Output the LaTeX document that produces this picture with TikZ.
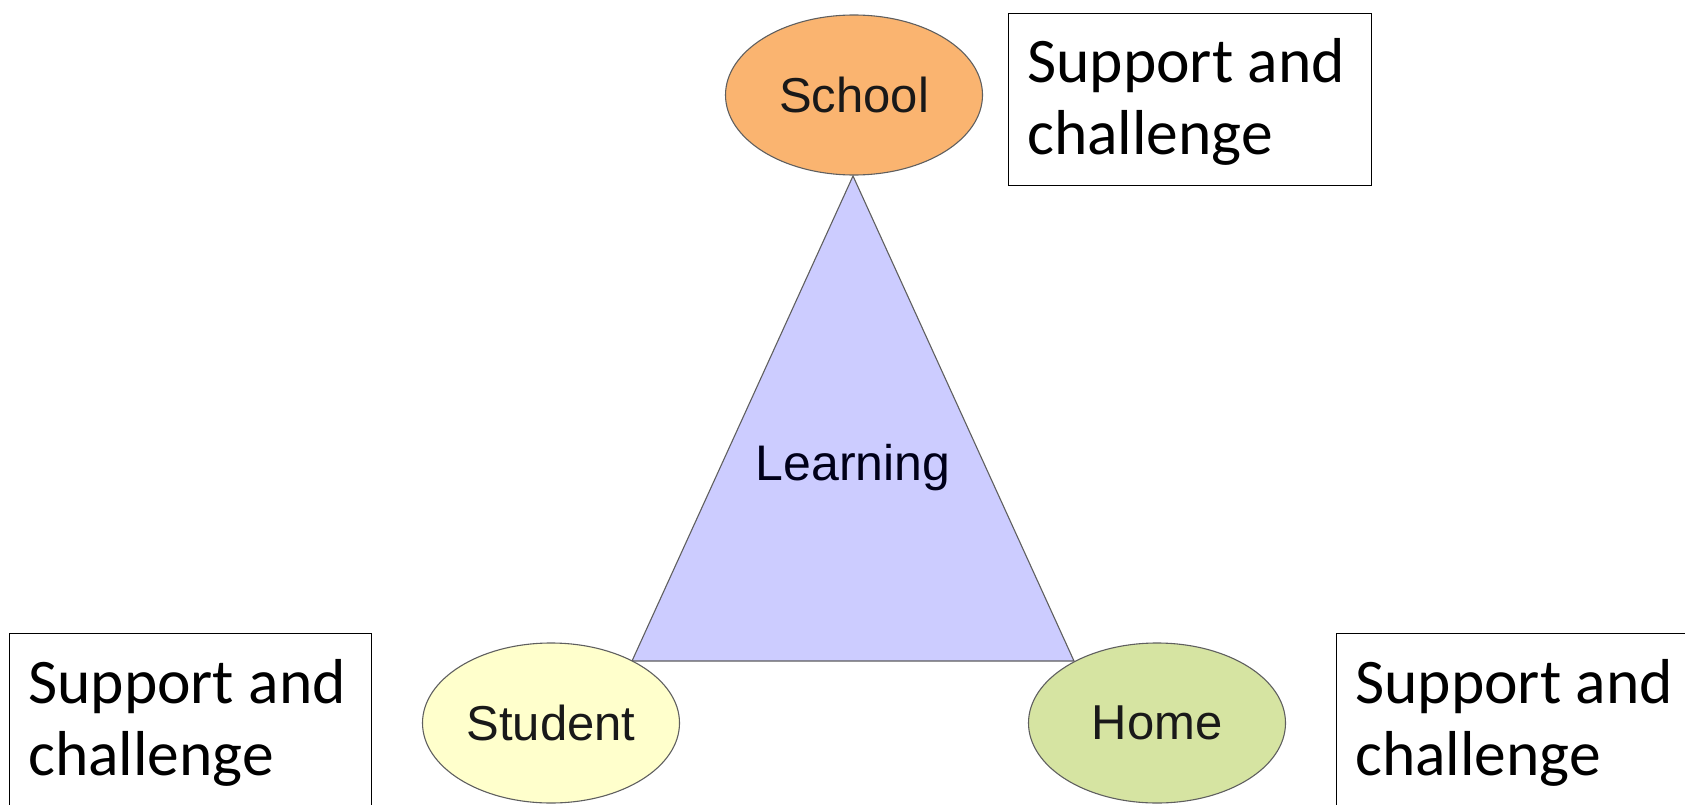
\documentclass[tikz,border=0pt]{standalone}
\usepackage{fontspec}
\setmainfont{Liberation Sans}
\newfontfamily\boxfont{Carlito}
\usetikzlibrary{shapes.geometric}
\definecolor{schoolfill}{RGB}{250,180,112}
\definecolor{studentfill}{RGB}{255,255,204}
\definecolor{homefill}{RGB}{214,228,162}
\definecolor{trifill}{RGB}{204,204,255}
\definecolor{edgegray}{RGB}{95,95,95}
\tikzset{
  oval/.style={ellipse, draw=edgegray, line width=1.1pt, minimum width=257pt, minimum height=160pt, inner sep=0pt, font=\fontsize{49}{55}\selectfont, text=black!90},
  framebox/.style={rectangle, draw=black, line width=1.4pt, anchor=north west, inner sep=0pt},
  boxtext/.style={anchor=base west, inner sep=0pt, font=\boxfont\fontsize{63.5}{72}\selectfont},
}
\begin{document}
\begin{tikzpicture}[x=1pt,y=-1pt]
\useasboundingbox (0,0) rectangle (1685,805);
% triangle
\coordinate (apex) at (853,176);
\coordinate (bl) at (632,661);
\coordinate (br) at (1074,661);
\draw[fill=trifill, draw=edgegray, line width=1.1pt, line join=miter] (apex) -- (bl) -- (br) -- cycle;
\node[font=\fontsize{50}{56}\selectfont, text=black!90!blue] (learning) at (853,468) {Learning};
% ellipses
\node[oval, fill=schoolfill] (school) at (854,95) {School};
\node[oval, fill=studentfill] (student) at (551,723) {Student};
\node[oval, fill=homefill] (home) at (1157,723) {Home};
% boxes
\node[framebox, minimum width=363pt, minimum height=172pt] (boxT) at (1008,13) {};
\node[boxtext] (tT1) at (1027,83) {Support and};
\node[boxtext] (tT2) at (1027,155) {challenge};
\node[framebox, minimum width=362pt, minimum height=200pt] (boxL) at (9,633) {};
\node[boxtext] (tL1) at (28,703) {Support and};
\node[boxtext] (tL2) at (28,775) {challenge};
\node[framebox, minimum width=380pt, minimum height=200pt] (boxR) at (1336,633) {};
\node[boxtext] (tR1) at (1355,703) {Support and};
\node[boxtext] (tR2) at (1355,775) {challenge};
\end{tikzpicture}
\end{document}
